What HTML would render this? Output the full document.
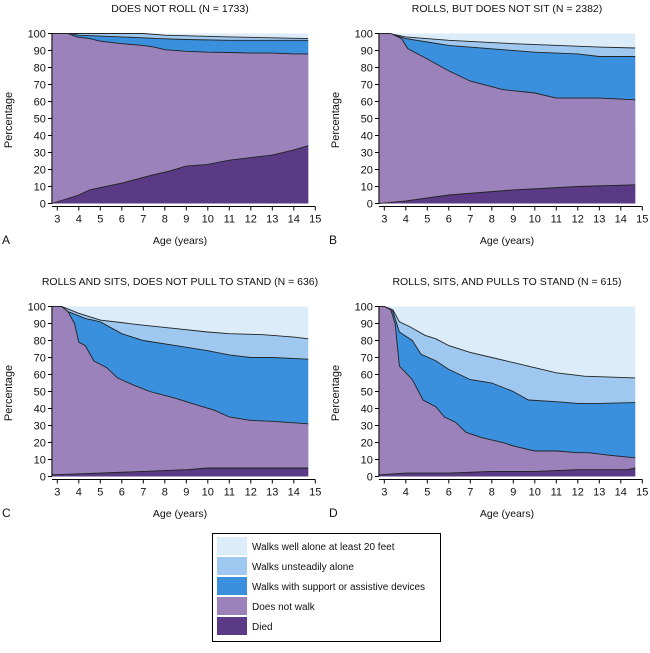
<!DOCTYPE html>
<html><head><meta charset="utf-8"><style>
body{margin:0;background:#fff;width:650px;height:648px;overflow:hidden;font-family:"Liberation Sans",Arial,sans-serif}
svg text{font-family:"Liberation Sans",Arial,sans-serif;fill:#111}
</style></head><body>
<svg id="s" width="650" height="648" xmlns="http://www.w3.org/2000/svg">
<g font-size="10.5" text-anchor="middle">
<text x="180" y="12">DOES NOT ROLL (N = 1733)</text>
<text x="507" y="12">ROLLS, BUT DOES NOT SIT (N = 2382)</text>
<text x="180" y="285">ROLLS AND SITS, DOES NOT PULL TO STAND (N = 636)</text>
<text x="507" y="285">ROLLS, SITS, AND PULLS TO STAND (N = 615)</text>
<text x="180" y="244">Age (years)</text>
<text x="507" y="244">Age (years)</text>
<text x="180" y="517">Age (years)</text>
<text x="507" y="517">Age (years)</text>
</g>
<g font-size="12">
<text x="2" y="244">A</text><text x="329" y="244">B</text>
<text x="2" y="517">C</text><text x="329" y="517">D</text>
</g>
<g id="panels"></g>
<rect x="212.5" y="533.5" width="228" height="108" fill="#fff" stroke="#000"/>
<g font-size="10">
<rect x="217" y="537" width="30" height="18" fill="#dcecf9"/><text x="252" y="550">Walks well alone at least 20 feet</text>
<rect x="217" y="557" width="30" height="18" fill="#9ec8ef"/><text x="252" y="570">Walks unsteadily alone</text>
<rect x="217" y="577" width="30" height="18" fill="#3a90dc"/><text x="252" y="590">Walks with support or assistive devices</text>
<rect x="217" y="597" width="30" height="18" fill="#9b82bb"/><text x="252" y="610">Does not walk</text>
<rect x="217" y="617" width="30" height="18" fill="#5a3a85"/><text x="252" y="630">Died</text>
</g>
</svg>
<script>
var D={
A:[[[2.75,0],[4,5],[4.5,8],[6,12],[7.5,17],[8.2,19],[9,22],[10,23],[11,25.5],[12,27],[13,28.5],[14,31.5],[14.67,34]],
[[2.75,100],[3.5,100],[3.9,98],[4.5,97],[5,95.5],[6,94],[7,93],[7.5,92],[8,90.5],[9,89.5],[10,89],[11,88.8],[12,88.5],[13,88.5],[14,88],[14.67,88]],
[[2.75,100],[3.6,100],[4,99],[5,98.5],[6,98],[7,97.5],[7.7,97],[9,96.5],[11,96],[14.67,96]],
[[2.75,100],[7,100],[8,99],[11,98],[14.67,97]]],
B:[[[2.75,0],[4,1.5],[6,5],[9,8],[12,10],[14.67,11]],
[[2.75,100],[3.3,100],[3.8,97],[4.1,91],[5,85],[6,78],[7,72],[8.5,67],[10,65],[11,62],[13,62],[14.67,61]],
[[2.75,100],[3.2,100],[4,97],[5,95],[6,93],[8,91],[10,89],[12,88],[13,86.5],[14.67,86.5]],
[[2.75,100],[3.2,100],[4,98],[6,96],[9,94],[13,92],[14.67,91.5]]],
C:[[[2.75,1],[5,2],[7,3],[9,4],[10,5],[14.67,5]],
[[2.75,100],[3.2,100],[3.5,97],[3.8,90],[4,79],[4.3,77],[4.7,68],[5.3,64],[5.8,58],[6.5,54],[7.3,50],[8.5,46],[9.5,42],[10.3,39],[11,35],[12,33],[13,32.5],[14.67,31]],
[[2.75,100],[3.2,100],[3.5,97],[4.3,93],[5,91],[6,84],[7,80],[8.5,77],[10,74],[11,71.5],[12,70],[13,70],[14.67,69]],
[[2.75,100],[3.2,100],[4,96],[5,92],[7,89],[8.5,87],[10,85],[11,84],[12.5,83.5],[14,82],[14.67,81]]],
D:[[[2.75,1],[4,2],[6,2],[8,3],[10,3],[12,4],[14.3,4],[14.67,5]],
[[2.75,100],[3,100],[3.3,98],[3.5,90],[3.7,65],[4.3,57],[4.8,45],[5.4,41],[5.8,35],[6.3,32],[6.8,26],[7.5,23],[8.5,20],[9,18],[10,15],[11,15],[12,14],[12.5,14],[13.5,12.5],[14.67,11]],
[[2.75,100],[3,100],[3.4,97],[3.7,85],[4.3,80],[4.7,72],[5.4,68],[6,63],[6.5,60],[7,57],[8,55],[9,50],[9.7,45],[11,44],[12,43],[13,43],[14.67,43.5]],
[[2.75,100],[3,100],[3.4,98],[3.7,91],[4.2,88],[4.9,83],[5.4,81],[6,77],[7,73],[8,70],[9,67],[10,64],[11,61],[12.3,59],[14.67,58]]]};
var off={A:[0,0],B:[327,0],C:[0,273],D:[327,273]};
var cols=["#5a3a85","#9b82bb","#3a90dc","#9ec8ef","#dcecf9"];
var h='';
for(var k in D){var ox=off[k][0],oy=off[k][1];
 var X=function(a){return ox+57.3+(a-3)*21.5},Y=function(v){return oy+203.5-v*1.7};
 var L=D[k];
 // background top layer
 h+='<rect x="'+X(2.75)+'" y="'+Y(100)+'" width="'+(X(14.67)-X(2.75))+'" height="170" fill="'+cols[4]+'"/>';
 for(var i=3;i>=0;i--){var p=L[i],d='M'+X(2.75)+','+Y(0);
  p.forEach(function(q){d+=' L'+X(q[0]).toFixed(1)+','+Y(q[1]).toFixed(1)});
  d+=' L'+X(14.67)+','+Y(0)+'Z';
  h+='<path d="'+d+'" fill="'+cols[i]+'"/>';
  var l='M'+p.map(function(q){return X(q[0]).toFixed(1)+','+Y(q[1]).toFixed(1)}).join(' L');
  h+='<path d="'+l+'" fill="none" stroke="#222" stroke-width="0.9"/>';}
 // axes
 h+='<path d="M'+X(2.75)+','+Y(100)+' V'+Y(0)+'" stroke="#000" fill="none"/>';
 h+='<path d="M'+X(2.75)+','+(Y(0)+3)+' H'+X(15)+'" stroke="#000" fill="none"/>';
 for(var v=0;v<=100;v+=10){h+='<path d="M'+(X(2.75)-4)+','+Y(v)+' H'+X(2.75)+'" stroke="#000"/>';
  h+='<text x="'+(X(2.75)-6)+'" y="'+(Y(v)+4)+'" font-size="11" text-anchor="end">'+v+'</text>';}
 for(var a=3;a<=15;a++){h+='<path d="M'+X(a)+','+(Y(0)+3)+' v4" stroke="#000"/>';
  h+='<text x="'+X(a)+'" y="'+(Y(0)+19)+'" font-size="11" text-anchor="middle">'+a+'</text>';}
 h+='<text transform="translate('+(ox+12)+','+(oy+120)+') rotate(-90)" font-size="11" text-anchor="middle">Percentage</text>';
}
document.getElementById('panels').innerHTML=h;
</script>
</body></html>
